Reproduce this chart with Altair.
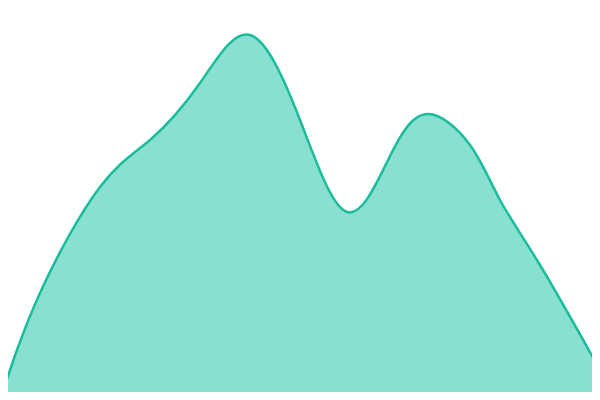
import altair as alt
import pandas as pd

# x position and height of the ridge (height measured from the bottom of the picture)
xs = [0, 40, 100, 150, 200, 250, 300, 347, 390, 427, 470, 500, 540, 600]
heights = [0, 107, 213, 260, 317, 365, 280, 188, 244, 286, 255, 200, 135, 30]

df = pd.DataFrame({"x": xs, "h": heights})

xsc = alt.Scale(domain=[8, 592], nice=False, zero=False)
ysc = alt.Scale(domain=[8, 392], nice=False, zero=False)

base = alt.Chart(df).encode(
    x=alt.X("x:Q", scale=xsc, axis=None),
    y=alt.Y("h:Q", scale=ysc, axis=None),
)

area = base.mark_area(interpolate="natural", color="#8ae0d0", opacity=1, clip=True)
line = base.mark_line(interpolate="natural", color="#1abc9c", strokeWidth=2.5, clip=True)

chart = (area + line).properties(
    width=584, height=384, padding=0, autosize=alt.AutoSizeParams(type="none")
).configure_view(stroke=None)

chart.save("out.html", embed_options={"renderer": "svg", "actions": False})
